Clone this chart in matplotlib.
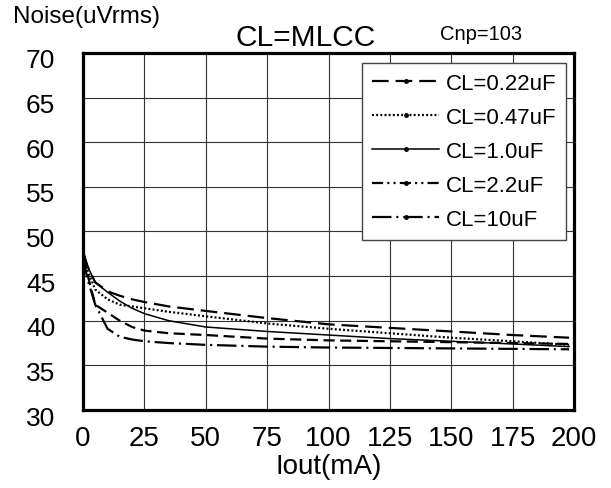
import matplotlib
matplotlib.use("Agg")
import matplotlib.pyplot as plt
from matplotlib.lines import Line2D
from matplotlib.transforms import ScaledTranslation

# ---- data ----
iout = [0, 2, 5, 10, 15, 20, 25, 35, 50, 75, 100, 125, 150, 175, 198]
cl_022 = [47.5, 46.0, 44.3, 43.3, 42.8, 42.4, 42.1, 41.6, 41.1, 40.3, 39.6, 39.2, 38.8, 38.4, 38.1]
cl_047 = [47.5, 45.5, 43.5, 42.4, 41.8, 41.6, 41.4, 41.0, 40.5, 39.7, 39.1, 38.6, 38.1, 37.7, 37.3]
cl_10 = [48.0, 46.0, 44.3, 43.2, 42.2, 41.4, 40.8, 40.0, 39.3, 38.8, 38.4, 38.0, 37.7, 37.4, 37.1]
cl_22 = [47.0, 45.0, 41.8, 40.9, 40.0, 39.3, 38.9, 38.6, 38.4, 38.0, 37.8, 37.7, 37.6, 37.5, 37.4]
cl_100 = [47.0, 44.5, 41.8, 39.1, 38.2, 37.9, 37.7, 37.5, 37.3, 37.1, 37.0, 36.95, 36.9, 36.85, 36.8]
labels = ["CL=0.22uF", "CL=0.47uF", "CL=1.0uF", "CL=2.2uF", "CL=10uF"]
xticks = [0, 25, 50, 75, 100, 125, 150, 175, 200]
yticks = [30, 35, 40, 45, 50, 55, 60, 65, 70]

plt.rcParams["font.family"] = ["Liberation Sans", "DejaVu Sans"]
plt.rcParams["lines.scale_dashes"] = False

fig = plt.figure(figsize=(6.11, 4.89), dpi=100)
ax = fig.add_axes([83 / 611, 1 - 411 / 489, 491 / 611, 357 / 489])

series = [cl_022, cl_047, cl_10, cl_22, cl_100]
line_dashes = [(12, 5), (1.4, 1.6), None, (8, 4), (14, 3.5, 1.5, 3.5)]
leg_dashes = [(12, 5), (1.4, 1.6), None, (8, 3, 1.5, 3, 1.5, 3), (14, 3.5, 1.5, 3.5)]
handles = []
for ys, d, ld, lab in zip(series, line_dashes, leg_dashes, labels):
    if d is None:
        ax.plot(iout, ys, color="black", lw=1.1, ls="-")
        h = Line2D([], [], color="black", lw=1.1, ls="-", marker="o", markersize=2.5)
    else:
        ax.plot(iout, ys, color="black", lw=1.6, ls=(0, d))
        h = Line2D([], [], color="black", lw=1.6, ls=(0, ld), marker="o", markersize=2.5)
    h.set_label(lab)
    handles.append(h)

ax.set_xlim(0, 200)
ax.set_ylim(30, 70)
ax.set_xticks(xticks)
ax.set_yticks(yticks)
ax.set_xticklabels([str(v) for v in xticks], fontsize=20)
ax.set_yticklabels([str(v) for v in yticks], fontsize=19)
ax.tick_params(length=0)
ax.tick_params(axis="y", pad=20)
ax.tick_params(axis="x", pad=11)
for lbl in ax.get_yticklabels():
    lbl.set_transform(lbl.get_transform() + ScaledTranslation(0, -5 / 100, fig.dpi_scale_trans))
ax.grid(True, color="#333333", lw=0.8)
ax.set_axisbelow(True)
for s in ax.spines.values():
    s.set_linewidth(2.3)
    s.set_color("black")

ax.set_xlabel("Iout(mA)", fontsize=20, labelpad=1)

leg = ax.legend(handles=handles, loc="upper right", bbox_to_anchor=(0.984, 0.972),
                borderaxespad=0, fontsize=16, handlelength=3.0, handletextpad=0.3,
                labelspacing=0.58, borderpad=0.45, fancybox=False, framealpha=1,
                edgecolor="#444444", numpoints=1)
leg.get_frame().set_linewidth(1.0)

fig.text(13 / 611, 1 - 17 / 489, "Noise(uVrms)", fontsize=17.5, va="center", ha="left")
fig.text(306 / 611, 1 - 38 / 489, "CL=MLCC", fontsize=21.5, va="center", ha="center")
fig.text(481 / 611, 1 - 35 / 489, "Cnp=103", fontsize=14.5, va="center", ha="center")

fig.savefig("out.png", dpi=100)
